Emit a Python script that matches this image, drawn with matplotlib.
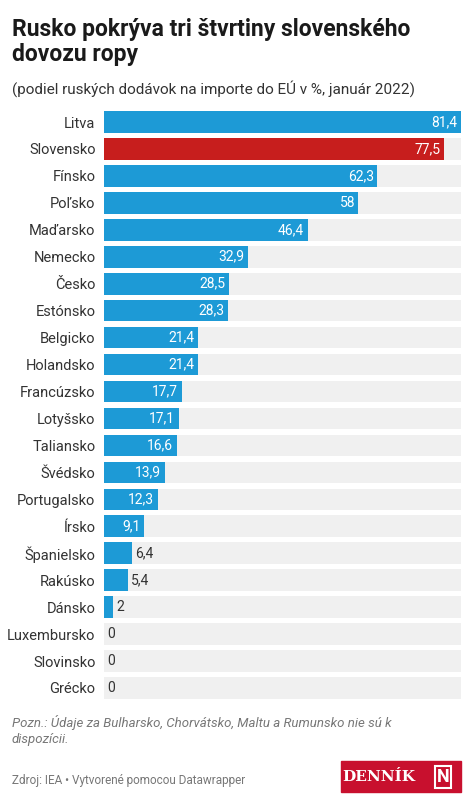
import matplotlib.pyplot as plt
from matplotlib.patches import Rectangle

countries = ["Litva", "Slovensko", "Fínsko", "Poľsko", "Maďarsko", "Nemecko", "Česko",
             "Estónsko", "Belgicko", "Holandsko", "Francúzsko", "Lotyšsko", "Taliansko",
             "Švédsko", "Portugalsko", "Írsko", "Španielsko", "Rakúsko", "Dánsko",
             "Luxembursko", "Slovinsko", "Grécko"]
values = [81.4, 77.5, 62.3, 58, 46.4, 32.9, 28.5, 28.3, 21.4, 21.4, 17.7, 17.1, 16.6,
          13.9, 12.3, 9.1, 6.4, 5.4, 2, 0, 0, 0]
labels = ["81,4", "77,5", "62,3", "58", "46,4", "32,9", "28,5", "28,3", "21,4", "21,4",
          "17,7", "17,1", "16,6", "13,9", "12,3", "9,1", "6,4", "5,4", "2", "0", "0", "0"]

plt.rcParams['font.family'] = ['Roboto', 'DejaVu Sans']
fig = plt.figure(figsize=(4.74, 8.1), dpi=100)
ax = fig.add_axes([0.219, 0.134, 0.754, 0.732])

xmax = 81.4
n = len(countries)
for i, (c, v, lab) in enumerate(zip(countries, values, labels)):
    ax.barh(i, xmax, height=0.8, color="#f0f0f0", zorder=1)
    color = "#c71e1d" if c == "Slovensko" else "#1d9ad6"
    ax.barh(i, v, height=0.8, color=color, zorder=2)
    if v >= 8:
        ax.text(v - 0.8, i, lab, ha="right", va="center", color="white", fontsize=10, zorder=3)
    else:
        ax.text(v + 0.8, i, lab, ha="left", va="center", color="#333333", fontsize=10, zorder=3)

ax.set_xlim(0, xmax)
ax.set_ylim(n - 0.5, -0.5)
ax.set_yticks(range(n))
ax.set_yticklabels(countries, fontsize=10.5, color="#333333")
ax.tick_params(axis="y", length=0, pad=6)
ax.set_xticks([])
for s in ax.spines.values():
    s.set_visible(False)

fig.text(0.025, 0.978, "Rusko pokrýva tri štvrtiny slovenského\ndovozu ropy", fontsize=16.5,
         fontweight="bold", va="top", color="#1a1a1a", linespacing=1.1)
fig.text(0.025, 0.891, "(podiel ruských dodávok na importe do EÚ v %, január 2022)",
         fontsize=11, va="center", color="#333333")
fig.text(0.025, 0.098, "Pozn.: Údaje za Bulharsko, Chorvátsko, Maltu a Rumunsko nie sú k\ndispozícii.",
         fontsize=9.5, style="italic", va="center", color="#777777", linespacing=1.3)
fig.text(0.025, 0.037, "Zdroj: IEA • Vytvorené pomocou Datawrapper", fontsize=8.5,
         va="center", color="#777777")

fig.patches.append(Rectangle((0.72, 0.022), 0.253, 0.038, transform=fig.transFigure,
                             color="#c8102e", zorder=5))
fig.text(0.80, 0.041, "DENNÍK", fontsize=11, fontweight="bold", family="DejaVu Serif",
         color="white", ha="center", va="center", zorder=6)
fig.text(0.935, 0.041, "N", fontsize=13, fontweight="bold", color="white", ha="center",
         va="center", zorder=6,
         bbox=dict(boxstyle="square,pad=0.1", fc="none", ec="white", lw=1.5))

fig.savefig("out.png", dpi=100)
